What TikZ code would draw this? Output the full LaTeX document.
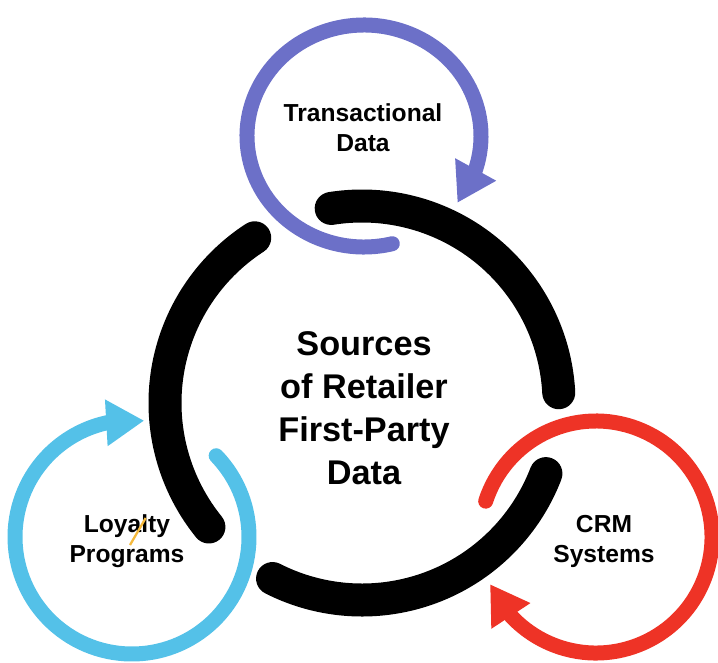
\documentclass[tikz,border=0pt]{standalone}
\usepackage{fontspec}
\setmainfont{Liberation Sans}
\usepackage{tikz}
\usetikzlibrary{
  arrows.meta,
  bending,
  calc
}
\definecolor{transcol}{RGB}{108,112,200}
\definecolor{loyalcol}{RGB}{84,193,232}
\definecolor{crmcol}{RGB}{238,51,38}
\definecolor{slashcol}{RGB}{245,185,60}
\tikzset{
  bigarc/.style={
    line width=0.66cm,
    line cap=round},
  ring/.style={
    line width=0.3cm,
    line cap=round,
    -{Triangle[width=0.88cm,length=0.76cm]}},
  lbl/.style={
    align=center,
    font=\bfseries\fontsize{14}{17}\selectfont}
  }

\begin{document}
\begin{tikzpicture}
  \useasboundingbox (0,0) rectangle (14.36,13.24);
  \coordinate (o) at (7.24,5.18);
  \coordinate (t) at (7.28,10.52);
  \coordinate (l) at (2.64,2.5);
  \coordinate (c) at (11.92,2.5);
  % the three cycles
  \draw[ring,transcol] ($(t)+(-76:2.34 and 2.22)$)
    arc[start angle=-76, end angle=-397, x radius=2.34, y radius=2.22];
  \draw[ring,loyalcol] ($(l)+(44:2.34)$)
    arc[start angle=44, end angle=-276, radius=2.34];
  \draw[ring,crmcol] ($(c)+(162:2.32)$)
    arc[start angle=162, end angle=-156, radius=2.32];
  % middle ring
  \foreach \a in {0,120,240}
    \draw[bigarc] ($(o)+(3+\a:3.94)$)
      arc[start angle=3+\a, end angle=99+\a, radius=3.94];
  \node[align=center, font=\bfseries\fontsize{19.5}{24.4}\selectfont] (src) at (7.28,5.08)
    {Sources\\of Retailer\\First-Party\\Data};
  \node[lbl] (trans) at (7.26,10.68) {Transactional\\Data};
  \node[lbl] (loyal) at (2.54,2.41) {Loyalty\\Programs};
  \node[lbl] (crm) at (12.08,2.41) {CRM\\Systems};
  \draw[slashcol, line width=1.3pt] (2.6,2.34) -- (2.914,2.88);
\end{tikzpicture}
\end{document}
